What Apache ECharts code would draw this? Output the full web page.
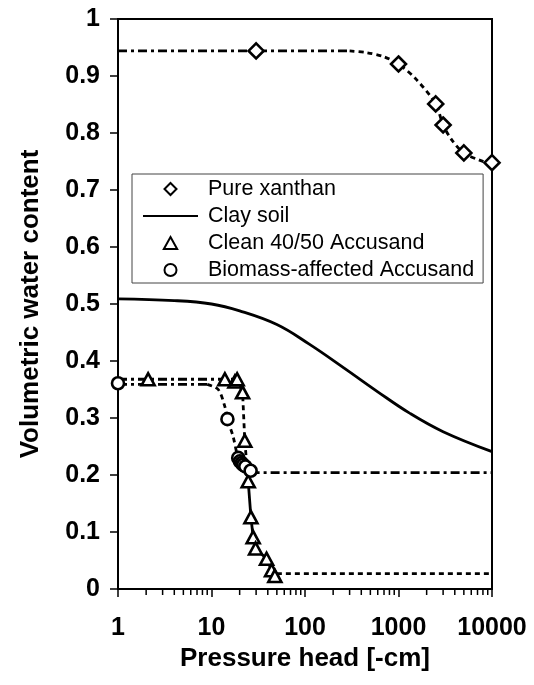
<!DOCTYPE html>
<html lang="en">
<head>
<meta charset="utf-8">
<script src="https://cdn.jsdelivr.net/npm/echarts@6/dist/echarts.min.js"></script>
<style>
  html, body { margin: 0; padding: 0; background: #fff; }
  #chart { width: 534px; height: 685px; }
</style>
</head>
<body>
<div id="chart"></div>

<script type="text/javascript">
    // measured points (pressure head in -cm, volumetric water content)
    var xanthanH = [30, 1000, 2500, 3000, 5000, 10000];
    var xanthanTheta = [0.944, 0.921, 0.851, 0.814, 0.765, 0.748];

    var cleanH = [2.1, 13.9, 17.8, 18.8, 21.5, 22.7, 24.7, 26.4, 27.9, 29.6, 38.8, 43.9, 47.6];
    var cleanTheta = [0.368, 0.368, 0.364, 0.368, 0.345, 0.260, 0.189, 0.126, 0.091, 0.071, 0.053, 0.033, 0.023];

    var bioH = [1, 14.8, 19.3, 20.1, 21.0, 21.8, 23.0, 26.2];
    var bioTheta = [0.361, 0.298, 0.230, 0.224, 0.221, 0.218, 0.215, 0.2075];

    // fitted / connecting curves
    var clayH = [1, 4, 10, 20, 50, 110, 260, 600, 1300, 3000, 10000];
    var clayTheta = [0.509, 0.506, 0.500, 0.488, 0.464, 0.430, 0.388, 0.346, 0.309, 0.276, 0.241];

    var xanPlateauH = [1, 300];
    var xanPlateauTheta = [0.944, 0.944];
    var xanCurveH = [300, 456, 690, 1000, 1550, 2500, 3000, 3710, 5000, 7460, 10000];
    var xanCurveTheta = [0.944, 0.941, 0.934, 0.921, 0.894, 0.851, 0.814, 0.788, 0.765, 0.752, 0.745];

    var cleanPlateauH = [1, 19];
    var cleanPlateauTheta = [0.368, 0.368];
    var cleanDropH = [19, 21.5, 22.7, 24.5];
    var cleanDropTheta = [0.368, 0.345, 0.260, 0.195];
    var cleanSolidH = [24.7, 26.4, 27.9, 29.6, 38.8, 43.9, 47.6];
    var cleanSolidTheta = [0.189, 0.126, 0.091, 0.071, 0.053, 0.033, 0.023];
    var cleanTailH = [50, 10000];
    var cleanTailTheta = [0.027, 0.027];

    var bioPlateauH = [1, 9];
    var bioPlateauTheta = [0.359, 0.359];
    var bioCurveH = [9, 11.8, 13.9, 14.8, 17, 19.3, 22, 26.2];
    var bioCurveTheta = [0.359, 0.350, 0.320, 0.298, 0.268, 0.230, 0.215, 0.207];
    var bioTailH = [26.2, 10000];
    var bioTailTheta = [0.204, 0.204];

    var minorTicks = [2, 3, 4, 5, 6, 7, 8, 9, 20, 30, 40, 50, 60, 70, 80, 90,
        200, 300, 400, 500, 600, 700, 800, 900, 2000, 3000, 4000, 5000, 6000, 7000, 8000, 9000];

    function pairs(xs, ys) {
        return xs.map(function (x, i) { return [x, ys[i]]; });
    }

    var FONT = 'Liberation Sans, Arial, Helvetica, sans-serif';
    var dashDot = [9, 4, 3, 4];
    var dashed = [5, 4];

    function fitLine(name, xs, ys, dash, smooth) {
        return {
            name: name,
            type: 'line',
            data: pairs(xs, ys),
            symbol: 'none',
            smooth: smooth || false,
            itemStyle: { color: '#000' },
            lineStyle: { color: '#000', width: 2.8, type: dash },
            z: 2
        };
    }

    function markers(name, xs, ys, symbol, size) {
        return {
            name: name,
            type: 'scatter',
            data: pairs(xs, ys),
            symbol: symbol,
            symbolSize: size,
            itemStyle: { color: '#fff', borderColor: '#000', borderWidth: 2.6, opacity: 1 },
            z: 5
        };
    }

    var myChart = echarts.init(document.getElementById('chart'));

    var option = {
        animation: false,
        backgroundColor: '#fff',
        textStyle: { fontFamily: FONT, color: '#000' },
        grid: {
            left: 118, right: 42, top: 19, bottom: 96,
            show: true, borderColor: '#000', borderWidth: 2
        },
        legend: {
            orient: 'vertical',
            left: 132,
            top: 174,
            padding: [4, 9, 2, 10],
            itemGap: 5,
            itemWidth: 55,
            itemHeight: 12,
            symbolKeepAspect: true,
            borderColor: '#444',
            borderWidth: 1,
            backgroundColor: '#fff',
            textStyle: { fontFamily: FONT, fontSize: 21.5, color: '#000', lineHeight: 22, padding: [0, 0, 0, 5] },
            data: [
                { name: 'Pure xanthan', icon: 'path://M5,0 L10,5 L5,10 L0,5 Z' },
                { name: 'Clay soil', itemStyle: { opacity: 0 } },
                { name: 'Clean 40/50 Accusand', icon: 'path://M5,0 L10,9 L0,9 Z' },
                { name: 'Biomass-affected Accusand', icon: 'circle' }
            ]
        },
        xAxis: {
            type: 'log',
            logBase: 10,
            min: 1,
            max: 10000,
            name: 'Pressure head [-cm]',
            nameLocation: 'middle',
            nameGap: 57,
            nameTextStyle: { fontFamily: FONT, fontSize: 26, fontWeight: 'bold', color: '#000' },
            axisLine: { lineStyle: { color: '#000', width: 2 } },
            axisTick: { inside: false, length: 8, lineStyle: { color: '#000', width: 1.5 } },
            axisLabel: {
                margin: 27, fontFamily: FONT, fontSize: 25, fontWeight: 'bold', color: '#000',
                formatter: function (v) { return String(Math.round(v)); }
            },
            splitLine: { show: false }
        },
        yAxis: {
            type: 'value',
            min: 0,
            max: 1,
            interval: 0.1,
            name: 'Volumetric water content',
            nameLocation: 'middle',
            nameGap: 74,
            nameTextStyle: { fontFamily: FONT, fontSize: 26, fontWeight: 'bold', color: '#000' },
            axisLine: { show: true, lineStyle: { color: '#000', width: 2 } },
            axisTick: { show: true, inside: false, length: 8, lineStyle: { color: '#000', width: 1.5 } },
            axisLabel: {
                margin: 18, fontFamily: FONT, fontSize: 25, fontWeight: 'bold', color: '#000',
                formatter: function (v) { return String(Math.round(v * 10) / 10); }
            },
            splitLine: { show: false }
        },
        series: [
            {
                name: 'minor ticks',
                type: 'custom',
                silent: true,
                clip: false,
                data: minorTicks.map(function (v) { return [v, 0]; }),
                encode: { x: 0, y: 1 },
                renderItem: function (params, api) {
                    var p = api.coord([api.value(0), 0]);
                    return {
                        type: 'line',
                        shape: { x1: p[0], y1: p[1], x2: p[0], y2: p[1] + 6 },
                        style: { stroke: '#000', lineWidth: 1.5 }
                    };
                },
                z: 1
            },
            fitLine('Clay soil', clayH, clayTheta, 'solid', 0.4),
            fitLine('xanthan plateau', xanPlateauH, xanPlateauTheta, dashDot),
            fitLine('xanthan curve', xanCurveH, xanCurveTheta, dashed, 0.3),
            fitLine('clean plateau', cleanPlateauH, cleanPlateauTheta, dashDot),
            fitLine('clean drop', cleanDropH, cleanDropTheta, dashed),
            fitLine('clean solid', cleanSolidH, cleanSolidTheta, 'solid'),
            fitLine('clean tail', cleanTailH, cleanTailTheta, dashed),
            fitLine('bio plateau', bioPlateauH, bioPlateauTheta, dashDot),
            fitLine('bio curve', bioCurveH, bioCurveTheta, dashed, 0.3),
            fitLine('bio tail', bioTailH, bioTailTheta, dashDot),
            markers('Pure xanthan', xanthanH, xanthanTheta, 'diamond', 15),
            markers('Clean 40/50 Accusand', cleanH, cleanTheta, 'triangle', [13, 12]),
            markers('Biomass-affected Accusand', bioH, bioTheta, 'circle', 12)
        ]
    };

    myChart.setOption(option);
</script>
</body>
</html>
